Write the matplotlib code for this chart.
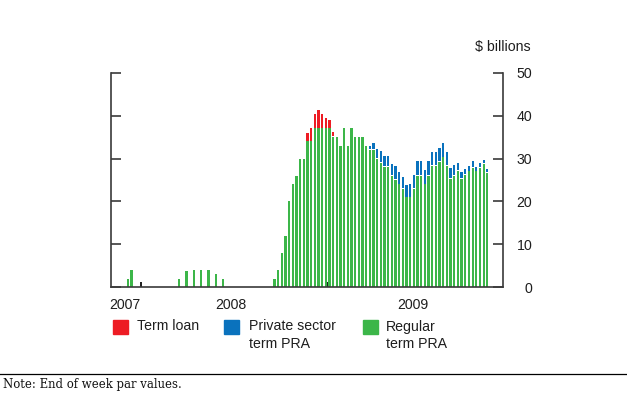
import numpy as np
import matplotlib
matplotlib.use("Agg")
import matplotlib.pyplot as plt
from matplotlib.patches import Rectangle
from matplotlib.lines import Line2D

plt.rcParams['font.family'] = ['Liberation Sans', 'DejaVu Sans']

# week index of each bar (0 = first week of the 2008 ramp-up)
weeks = list(range(-40, 59))

# Regular term PRA, $ billions (zeros where no operation outstanding)
regular = [2, 4, 0, 0, 0, 0, 0, 0, 0, 0, 0, 0, 0, 0,
           2, 0, 3.7, 0, 4, 0, 4, 0, 4, 0, 3, 0, 2,
           0, 0, 0, 0, 0, 0, 0, 0, 0, 0, 0, 0, 0,
           2, 4, 8, 12, 20, 24, 26, 30, 30, 34, 34, 37, 37, 37, 37, 37,
           35, 35, 33, 37, 33, 37, 35, 35, 35, 33, 32, 32, 30, 29, 28, 28,
           26, 25, 24, 23, 21, 21, 23, 26, 26, 24, 26, 28.3, 28.3, 29.2,
           30.3, 28.3, 25.2, 26, 27.2, 25.2, 26.2, 27, 27.9, 27, 27.9, 28.7, 26.7]

# Term loan on top of regular PRA (weeks 9..16)
term_loan_weeks = [9, 10, 11, 12, 13, 14, 15, 16]
term_loan = [1.9, 2.9, 3.3, 4.2, 3.3, 2.2, 1.9, 1.0]

# Private sector term PRA on top of regular PRA (weeks 26..58)
private_weeks = list(range(26, 59))
private = [0.8, 1.5, 2.0, 2.6, 2.5, 2.5, 2.6, 3.0, 2.7, 2.6, 2.6, 3.0, 3.1,
           3.3, 3.3, 3.2, 3.3, 3.1, 3.1, 3.2, 3.2, 3.0, 2.5, 2.4, 1.5, 1.5,
           1.2, 1.2, 1.3, 0.8, 1.0, 0.7, 0.6]

# small black marks sitting on the axis
mark_weeks = [-36.5, 14.45]
mark_vals = [1.3, 1.3]

year_pos = [-40.8, -11.9, 37.8]
year_labels = ['2007', '2008', '2009']

GREEN = '#3cb649'
RED = '#ed1c24'
BLUE = '#0a72bd'
AXC = '#3a3a3a'
TXT = '#1e1e1e'
FS = 10.2

W, H = 627, 396
fig = plt.figure(figsize=(W / 100, H / 100), dpi=100)


def fx(x):
    return x / W


def fy(y):
    return 1 - y / H


ax = fig.add_axes([fx(111), fy(287.3), fx(503) - fx(111), fy(72.7) - fy(287.3)])

reg = dict(zip(weeks, regular))
ax.bar(weeks, regular, width=0.58, color=GREEN, linewidth=0)
ax.bar(term_loan_weeks, term_loan, width=0.58, color=RED, linewidth=0,
       bottom=[reg[w] + 0.15 for w in term_loan_weeks])
ax.bar(private_weeks, private, width=0.58, color=BLUE, linewidth=0,
       bottom=[reg[w] + 0.15 for w in private_weeks])
ax.bar(mark_weeks, mark_vals, width=0.45, color='#222222', linewidth=0)

ax.set_xlim(-44.6, 62.3)
ax.set_ylim(0, 50)

ax.spines['top'].set_visible(False)
for s in ['left', 'right', 'bottom']:
    ax.spines[s].set_color(AXC)
    ax.spines[s].set_linewidth(1.2)

ax.set_yticks([0, 10, 20, 30, 40, 50])
ax.tick_params(axis='y', left=True, right=True, labelleft=False, labelright=True,
               direction='in', length=7.5, width=1.2, color=AXC, pad=21,
               labelsize=FS, labelcolor=TXT)
for lab in ax.get_yticklabels():
    lab.set_ha('right')

ax.set_xticks(year_pos)
ax.set_xticklabels(year_labels)
ax.tick_params(axis='x', length=0, pad=8, labelsize=FS, labelcolor=TXT)

fig.text(fx(531), fy(46.5), '$ billions', ha='right', va='center', fontsize=FS,
         color=TXT)

# legend drawn by hand
legend_items = [(RED, 'Term loan', 113, 137),
                (BLUE, 'Private sector\nterm PRA', 224, 249),
                (GREEN, 'Regular\nterm PRA', 363, 386)]
for col, txt, bx, tx in legend_items:
    fig.add_artist(Rectangle((fx(bx), fy(334)), fx(15), 14 / H, color=col,
                             transform=fig.transFigure))
    fig.text(fx(tx), fy(319.5), txt, ha='left', va='top', fontsize=FS,
             color=TXT, linespacing=1.3)

fig.add_artist(Line2D([0, 1], [fy(373.5), fy(373.5)], color='black', lw=0.9,
                      transform=fig.transFigure))
fig.text(fx(3), fy(384.5), 'Note: End of week par values.', ha='left', va='center',
         fontsize=8.4, family=['DejaVu Serif'], color='#111111')

fig.savefig('out.png', dpi=100)
